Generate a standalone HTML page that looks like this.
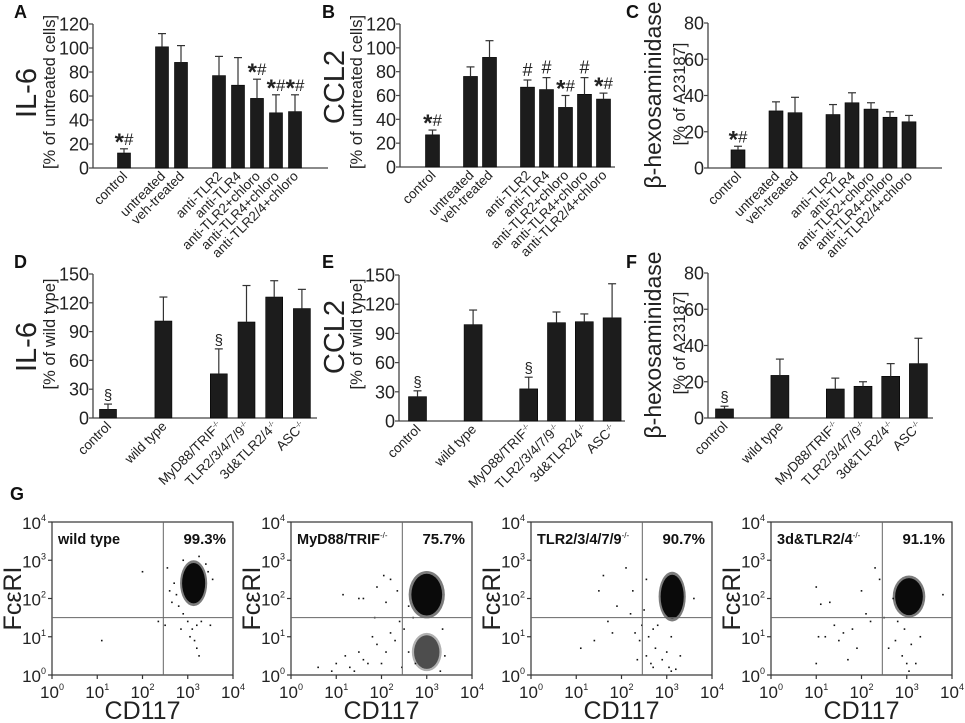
<!DOCTYPE html>
<html><head><meta charset="utf-8">
<style>
html,body{margin:0;padding:0;background:#fff;}
svg{display:block;font-family:"Liberation Sans",Arial,sans-serif;}
</style></head>
<body>
<svg id="fig" width="965" height="723" viewBox="0 0 965 723" xmlns="http://www.w3.org/2000/svg"></svg>
<script>
// ---------- DATA ----------
const catsTop = ["control","untreated","veh-treated","anti-TLR2","anti-TLR4","anti-TLR2+chloro","anti-TLR4+chloro","anti-TLR2/4+chloro"];
const catsBot = ["control","wild type","MyD88/TRIF","TLR2/3/4/7/9","3d&TLR2/4","ASC"];
const supBot = ["","","-/-","-/-","-/-","-/-"];
const valA = [12.5,101,88,77,69,58,46,47];
const errA = [16,112,102,93,92,74,61,61];
const annA = ["*#","","","","","*#","*#","*#"];
const valB = [27,76,92,67,65,50,61,57];
const errB = [31,84,106,73,75,60,75,62];
const annB = ["*#","","","#","#","*#","#","*#"];
const valC = [10,31.5,30.5,29.5,36,32.5,28,25.5];
const errC = [12,36.5,39,35,41.5,36,31,29];
const annC = ["*#","","","","","","",""];
const valD = [9,101,46,100,126,114];
const errD = [14.5,126,72,138,143,134];
const annD = ["§","","§","","",""];
const valE = [25,99,33,101,102,106];
const errE = [31,114,45,112,110,141];
const annE = ["§","","§","","",""];
const valF = [5,23.5,16,17.5,23,30];
const errF = [6.5,32.5,22,20,30,44];
const annF = ["§","","","","",""];
const ticksA = [0,20,40,60,80,100,120];
const ticksC = [0,20,40,60,80];
const ticksD = [0,30,60,90,120,150];
// flow cytometry (log10 units)
const flowNames = ["wild type","MyD88/TRIF","TLR2/3/4/7/9","3d&TLR2/4"];
const flowSup = ["","-/-","-/-","-/-"];
const flowPct = ["99.3%","75.7%","90.7%","91.1%"];
const flowTicks = [0,1,2,3,4];
const gateX = 2.46, gateY = 1.5;
// clusters: [cx, cy, rx, ry, density]
const clusters = [
  [[3.13,2.4,0.3,0.6,1]],
  [[3.0,2.1,0.4,0.62,1],[3.0,0.6,0.33,0.5,0.6]],
  [[3.12,2.05,0.3,0.65,1]],
  [[3.05,2.05,0.36,0.55,1]]
];
const scatter = [
  [[2.0,2.7],[1.1,0.9],[2.5,1.3],[2.35,1.4],[2.55,2.8],[2.7,2.4],[2.75,2.1],[2.8,1.8],[2.65,1.9],[2.9,1.6],[3.0,1.4],[3.1,1.2],[3.2,1.3],[3.3,1.4],[3.05,1.0],[3.15,0.9],[3.2,0.7],[3.25,0.5],[2.85,1.2],[3.5,1.3],[3.45,2.7],[3.55,2.5],[3.4,2.9],[2.9,3.0],[3.25,3.1],[2.6,2.2]],
  [[0.6,0.2],[1.15,2.1],[1.5,2.0],[1.6,2.0],[1.9,2.3],[2.05,2.6],[2.2,2.5],[2.35,2.2],[1.8,1.0],[1.9,0.8],[1.5,0.6],[1.6,0.4],[1.3,0.2],[1.2,0.5],[1.4,0.1],[2.0,0.3],[2.1,0.6],[2.2,1.1],[2.3,0.9],[1.7,0.3],[0.9,0.1],[2.4,1.4],[2.5,1.2],[2.6,1.8],[2.7,1.5],[2.75,0.3],[3.35,1.2],[3.4,0.5],[3.3,0.1],[1.0,0.3],[1.85,1.5],[2.1,1.9],[2.45,0.2],[2.6,0.6]],
  [[1.1,0.7],[1.4,0.9],[1.5,2.2],[1.6,2.6],[1.9,1.8],[2.1,2.8],[2.2,1.6],[2.25,2.2],[1.7,1.4],[2.3,1.1],[2.35,0.4],[2.4,0.9],[2.5,1.7],[2.55,0.5],[2.6,1.0],[2.65,0.3],[2.7,0.2],[2.75,0.7],[2.8,1.3],[2.9,0.4],[3.0,0.6],[3.05,0.2],[3.1,0.1],[3.2,0.15],[3.3,0.5],[3.6,2.0],[2.55,2.5],[2.7,1.2],[3.1,1.0],[2.45,1.3],[1.8,1.1]],
  [[1.0,0.3],[1.05,1.0],[1.1,1.85],[1.0,2.3],[1.2,1.0],[1.4,1.3],[1.5,0.9],[1.6,1.1],[1.7,0.4],[1.8,1.2],[1.9,0.7],[2.0,2.2],[2.1,1.6],[2.3,2.8],[2.2,1.4],[2.4,2.5],[2.5,1.5],[2.6,0.7],[2.75,0.9],[2.8,1.4],[2.9,0.5],[3.0,0.3],[3.1,0.8],[3.2,0.3],[3.3,1.0],[3.8,2.1],[2.95,1.2],[2.7,2.0],[1.3,1.9],[3.05,0.1]]
];

// ---------- HELPERS ----------
const NS="http://www.w3.org/2000/svg";
const svg=document.getElementById('fig');
function mk(tag,attrs,parent){const e=document.createElementNS(NS,tag);for(const k in attrs)e.setAttribute(k,attrs[k]);(parent||svg).appendChild(e);return e;}
function txt(s,attrs,parent){const e=mk('text',attrs,parent);e.textContent=s;return e;}

function barChart(cfg){
  const g=mk('g',{});
  
  
  const yS=v=>cfg.y0-(v/cfg.ymax)*(cfg.y0-cfg.ytop);
  const xS=i=>cfg.ax+cfg.off+cfg.slots[i]*cfg.sp;
  const ya=mk('line',{x1:cfg.ax,y1:cfg.ytop,x2:cfg.ax,y2:cfg.y0,stroke:'#444','stroke-width':1.3},g);
  
  
  const xa=mk('line',{x1:cfg.ax,y1:cfg.y0,x2:cfg.xend,y2:cfg.y0,stroke:'#444','stroke-width':1.3},g);
  
  
  cfg.ticks.forEach(t=>{
    mk('line',{x1:cfg.ax-4,y1:yS(t),x2:cfg.ax,y2:yS(t),stroke:'#444','stroke-width':1.2},g);
    const tl=txt(String(t),{x:cfg.ax-4,y:yS(t)+6.5,'text-anchor':'end','font-size':18,fill:'#222'},g);
    
    
  });
  cfg.vals.forEach((v,i)=>{
    const cx=xS(i), w=cfg.bw;
    const b=mk('rect',{x:cx-w/2,y:yS(v),width:w,height:cfg.y0-yS(v),fill:'#1c1c1c',stroke:'#000','stroke-width':0.6},g);
    
    
    const ey=yS(cfg.errs[i]);
    mk('line',{x1:cx,y1:yS(v),x2:cx,y2:ey,stroke:'#333','stroke-width':1.2},g);
    mk('line',{x1:cx-4,y1:ey,x2:cx+4,y2:ey,stroke:'#333','stroke-width':1.2},g);
    const a=cfg.ann[i];
    if(a){
      const an=txt('',{x:cx,y:ey-4,'text-anchor':'middle','font-size':a==='§'?15:18,fill:'#222'},g);
      
      
      if(a.includes('*')){const s=mk('tspan',{'font-size':24,'font-weight':'bold',dy:5},an);s.textContent='*';const h=mk('tspan',{'font-size':17,dy:-5},an);h.textContent='#';}
      else an.textContent=a;
    }
    const lx=cx+4, ly=cfg.y0+9;
    const lab=txt('',{x:lx,y:ly,'text-anchor':'end','font-size':13.5,fill:'#222',transform:`rotate(-45 ${lx} ${ly})`},g);
    
    
    const t1=mk('tspan',{},lab);t1.textContent=cfg.cats[i];
    if(cfg.sup&&cfg.sup[i]){const t2=mk('tspan',{'font-size':7,dy:-5},lab);t2.textContent=cfg.sup[i];}
  });
  const t=txt(cfg.title,{x:cfg.tx,y:cfg.ty,'text-anchor':'middle','font-size':cfg.tfs,fill:'#222',transform:`rotate(-90 ${cfg.tx} ${cfg.ty})`},g);
  
  
  const s=txt(cfg.sub,{x:cfg.sx,y:cfg.sy,'text-anchor':'middle','font-size':16.5,fill:'#222',transform:`rotate(-90 ${cfg.sx} ${cfg.sy})`},g);
  
  
  const L=txt(cfg.letter,{x:cfg.lx,y:cfg.ly,'font-size':18,'font-weight':'bold',fill:'#111'},g);
  
  
}
const slotsTop=[0,2,3,5,6,7,8,9], slotsBot=[0,2,4,5,6,7];
barChart({name:'panel-a-il6',letter:'A',lx:14,ly:18,ax:93,xend:328,y0:168,ytop:24,ymax:120,ticks:ticksA,off:31,sp:19,bw:13,slots:slotsTop,cats:catsTop,vals:valA,errs:errA,ann:annA,title:'IL-6',tfs:29,tx:36,ty:93,sub:'[% of untreated cells]',sx:55,sy:92});
barChart({name:'panel-b-ccl2',letter:'B',lx:322,ly:18,ax:400,xend:615,y0:167,ytop:24,ymax:120,ticks:ticksA,off:32.5,sp:19,bw:14,slots:slotsTop,cats:catsTop,vals:valB,errs:errB,ann:annB,title:'CCL2',tfs:29,tx:344,ty:87,sub:'[% of untreated cells]',sx:362,sy:92});
barChart({name:'panel-c-hexosaminidase',letter:'C',lx:626,ly:18,ax:708,xend:942,y0:168,ytop:23,ymax:80,ticks:ticksC,off:30,sp:19,bw:14,slots:slotsTop,cats:catsTop,vals:valC,errs:errC,ann:annC,title:'β-hexosaminidase',tfs:23,tx:661,ty:95,sub:'[% of A23187]',sx:685,sy:94});
barChart({name:'panel-d-il6',letter:'D',lx:14,ly:268,ax:93,xend:317,y0:418,ytop:274,ymax:150,ticks:ticksD,off:15,sp:27.7,bw:17,slots:slotsBot,cats:catsBot,sup:supBot,vals:valD,errs:errD,ann:annD,title:'IL-6',tfs:29,tx:36,ty:347,sub:'[% of  wild type]',sx:55,sy:334});
barChart({name:'panel-e-ccl2',letter:'E',lx:322,ly:268,ax:399,xend:625,y0:421,ytop:275,ymax:150,ticks:ticksD,off:18.5,sp:27.8,bw:18,slots:slotsBot,cats:catsBot,sup:supBot,vals:valE,errs:errE,ann:annE,title:'CCL2',tfs:29,tx:344,ty:337,sub:'[% of  wild type]',sx:362,sy:334});
barChart({name:'panel-f-hexosaminidase',letter:'F',lx:626,ly:268,ax:708,xend:933,y0:418,ytop:273,ymax:80,ticks:ticksC,off:16.5,sp:27.7,bw:18,slots:slotsBot,cats:catsBot,sup:supBot,vals:valF,errs:errF,ann:annF,title:'β-hexosaminidase',tfs:23,tx:661,ty:345,sub:'[% of A23187]',sx:685,sy:343});

// ---------- FLOW PLOTS ----------
const G=txt('G',{x:10,y:500,'font-size':18,'font-weight':'bold',fill:'#111'});


const plotLefts=[52,291,531,771], pw=181, pTop=522, pBot=675;
flowNames.forEach((nm,p)=>{
  const L=plotLefts[p];
  const g=mk('g',{});
  
  
  const xS=v=>L+v/4*pw, yS=v=>pBot-v/4*(pBot-pTop);
  clusters[p].forEach(c=>{
    const rx=c[2]/4*pw, ry=c[3]/4*(pBot-pTop);
    const h=mk('ellipse',{cx:xS(c[0]),cy:yS(c[1]),rx:rx,ry:ry,fill:'#111',opacity:0.55*c[4]},g);
    
    
    const e=mk('ellipse',{cx:xS(c[0]),cy:yS(c[1]),rx:rx*0.85,ry:ry*0.88,fill:'#0a0a0a',opacity:c[4]},g);
    
    
  });
  scatter[p].forEach(s=>{
    const d=mk('rect',{x:xS(s[0])-0.8,y:yS(s[1])-0.8,width:1.6,height:1.6,fill:'#111'},g);
    
    
  });
  mk('rect',{x:L,y:pTop,width:pw,height:pBot-pTop,fill:'none',stroke:'#333','stroke-width':1.2},g);
  const gv=mk('line',{x1:xS(gateX),y1:pTop,x2:xS(gateX),y2:pBot,stroke:'#666','stroke-width':1},g);
  
  
  const gh=mk('line',{x1:L,y1:yS(gateY),x2:L+pw,y2:yS(gateY),stroke:'#666','stroke-width':1},g);
  
  
  flowTicks.forEach(t=>{
    mk('line',{x1:xS(t),y1:pBot,x2:xS(t),y2:pBot+4,stroke:'#333','stroke-width':1.2},g);
    mk('line',{x1:L-4,y1:yS(t),x2:L,y2:yS(t),stroke:'#333','stroke-width':1.2},g);
    const xl=txt('',{x:xS(t),y:pBot+23,'text-anchor':'middle','font-size':17,fill:'#222'},g);
    
    
    let a=mk('tspan',{},xl);a.textContent='10';a=mk('tspan',{'font-size':9,dy:-8},xl);a.textContent=String(t);
    const yl=txt('',{x:L-6,y:yS(t)+7,'text-anchor':'end','font-size':17,fill:'#222'},g);
    
    
    a=mk('tspan',{},yl);a.textContent='10';a=mk('tspan',{'font-size':9,dy:-8},yl);a.textContent=String(t);
  });
  const xt=txt('CD117',{x:L+pw/2,y:719,'text-anchor':'middle','font-size':25,fill:'#222'},g);
  
  
  const ty=pTop+(pBot-pTop)/2, tx=L-31;
  const yt=txt('FcεRI',{x:tx,y:ty,'text-anchor':'middle','font-size':25,fill:'#222',transform:`rotate(-90 ${tx} ${ty})`},g);
  
  
  const nl=txt('',{x:L+6,y:pTop+22,'font-size':14.5,'font-weight':'bold',fill:'#111'},g);
  
  
  let a=mk('tspan',{},nl);a.textContent=nm;
  if(flowSup[p]){a=mk('tspan',{'font-size':8,dy:-6,'font-weight':'normal'},nl);a.textContent=flowSup[p];}
  const pc=txt(flowPct[p],{x:L+pw-7,y:pTop+22,'text-anchor':'end','font-size':15,'font-weight':'bold',fill:'#111'},g);
  
  
});
</script>
</body></html>
